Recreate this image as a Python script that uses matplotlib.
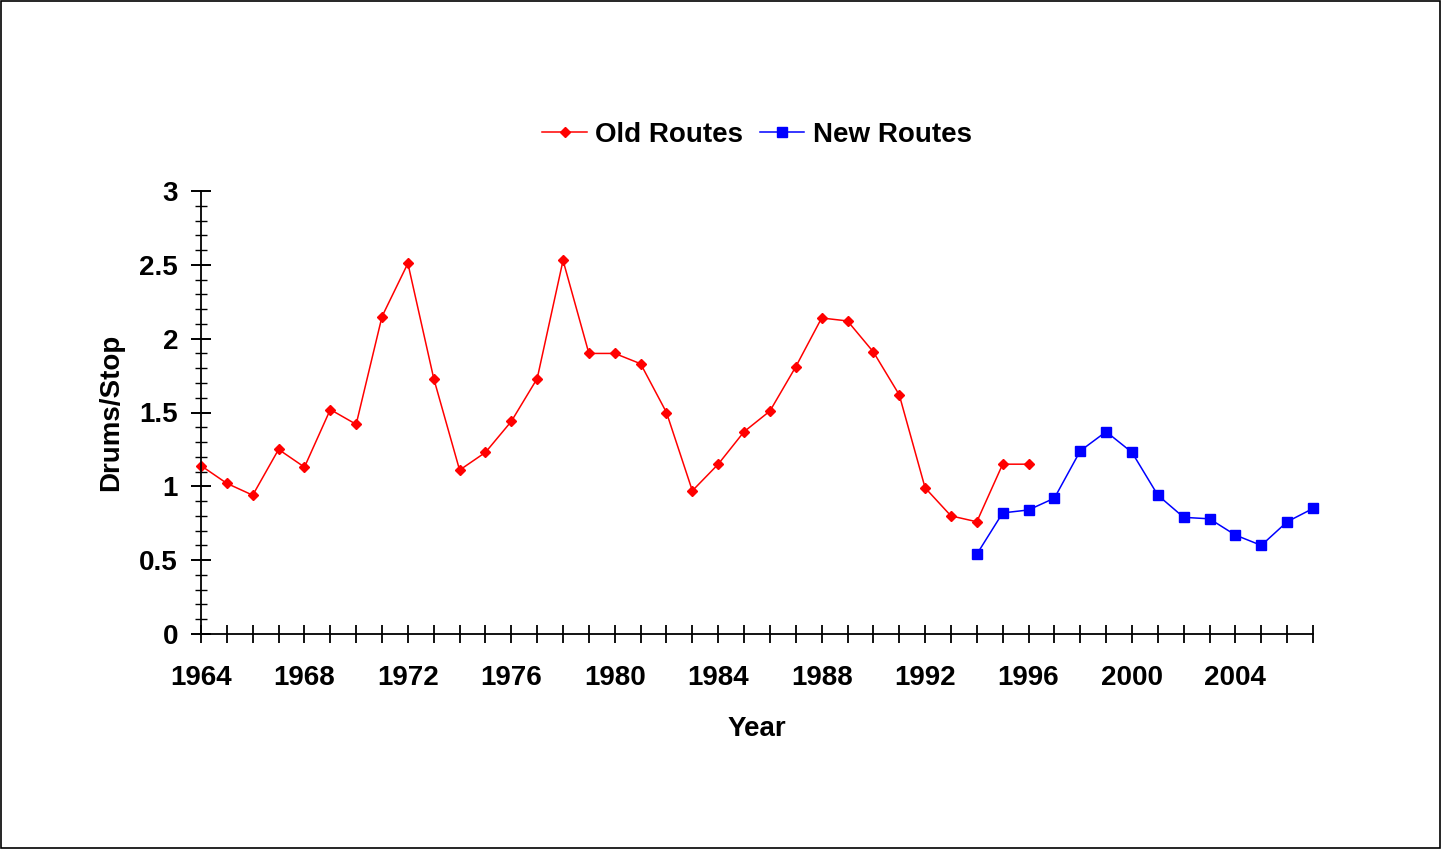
import matplotlib.pyplot as plt
import numpy as np
from matplotlib.ticker import MultipleLocator, FuncFormatter
from matplotlib.patches import Rectangle

plt.rcParams['font.family'] = ['Liberation Sans', 'DejaVu Sans']
plt.rcParams['font.weight'] = 'bold'

old_years = list(range(1964, 1997))
old_values = [1.14, 1.02, 0.94, 1.25, 1.13, 1.52, 1.42, 2.15, 2.51, 1.73,
              1.11, 1.23, 1.44, 1.73, 2.53, 1.90, 1.90, 1.83, 1.50, 0.97,
              1.15, 1.37, 1.51, 1.81, 2.14, 2.12, 1.91, 1.62, 0.99, 0.80,
              0.76, 1.15, 1.15]

new_years = list(range(1994, 2008))
new_values = [0.54, 0.82, 0.84, 0.92, 1.24, 1.37, 1.23, 0.94, 0.79, 0.78,
              0.67, 0.60, 0.76, 0.85]

xtick_labels = [1964, 1968, 1972, 1976, 1980, 1984, 1988, 1992, 1996, 2000, 2004]

fig = plt.figure(figsize=(14.42, 8.5), dpi=100)
ax = fig.add_axes([201 / 1442, 1 - 634 / 850, 1112 / 1442, 443 / 850])

ax.plot(old_years, old_values, color='#ff0000', lw=1.1, marker='D',
        markersize=5.5, label='Old Routes', clip_on=False)
ax.plot(new_years, new_values, color='#0000ff', lw=1.1, marker='s',
        markersize=6.5, label='New Routes', clip_on=False)

ax.set_xlim(1964, 2007)
ax.set_ylim(0, 3)

ax.set_xticks(xtick_labels)
ax.xaxis.set_minor_locator(MultipleLocator(1))
ax.yaxis.set_major_locator(MultipleLocator(0.5))
ax.yaxis.set_minor_locator(MultipleLocator(0.1))
ax.yaxis.set_major_formatter(FuncFormatter(lambda v, p: f'{v:g}'))

ax.tick_params(axis='x', which='both', direction='inout', length=13, width=1.3,
               labelsize=20, pad=16)
ax.tick_params(axis='y', which='major', direction='inout', length=15, width=1.4,
               labelsize=20, pad=9)
ax.tick_params(axis='y', which='minor', direction='inout', length=9, width=1.0)

for side in ['top', 'right']:
    ax.spines[side].set_visible(False)
for side in ['left', 'bottom']:
    ax.spines[side].set_linewidth(1.3)

ax.set_xlabel('Year', fontsize=20, fontweight='bold', labelpad=18)
ax.set_ylabel('Drums/Stop', fontsize=20, fontweight='bold', labelpad=11)

fig.legend(loc='center', bbox_to_anchor=(757 / 1442, 1 - 135 / 850), ncol=2,
           frameon=False, fontsize=20, handlelength=1.6, columnspacing=0.6,
           handletextpad=0.3, borderaxespad=0)

fig.patches.append(Rectangle((0.0005, 0.002), 0.998, 0.997, transform=fig.transFigure,
                             fill=False, edgecolor='black', lw=1.2))

fig.savefig('out.png', dpi=100)
